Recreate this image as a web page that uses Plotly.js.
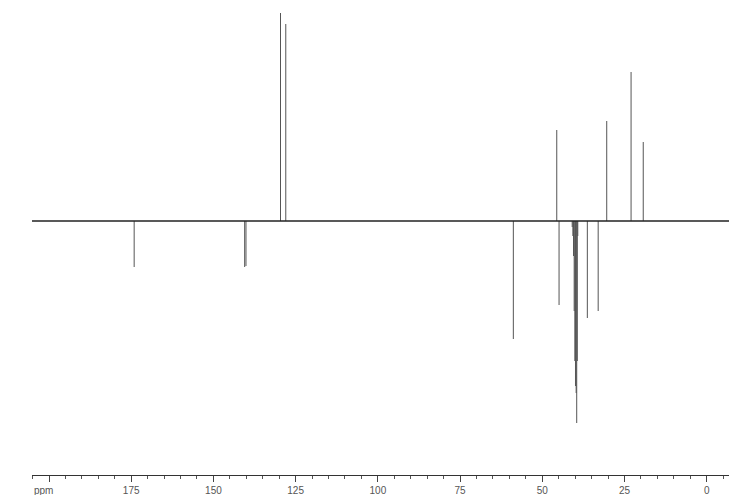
<!DOCTYPE html>
<html>
<head>
<meta charset="utf-8">
<script src="https://cdn.plot.ly/plotly-3.0.1.min.js"></script>
<style>html,body{margin:0;padding:0;background:#fff;}#chart{width:729px;height:495px;}</style>
</head>
<body>
<div id="chart"></div>
<script>
// Peak positions (ppm) and signed intensities (arbitrary units, positive = up)
var peakPpm = [174.1, 140.5, 140.1, 129.6, 128.0, 58.8, 45.6, 44.9,
               40.9, 40.7, 40.5, 40.3, 40.1, 39.9, 39.7, 39.53, 39.35, 39.2,
               36.3, 33.0, 30.4, 23.0, 19.3];
var peakInt = [-46, -46, -45, 208, 197, -118, 91, -84,
               -6, -15, -35, -90, -140, -165, -172, -202, -140, -15,
               -97, -90, 100, 149, 79];
var baselinePpm = [205.2, -6.8];
var baselineInt = [0, 0];
var majorTicks = [0, 25, 50, 75, 100, 125, 150, 175, 200];
var majorText = ['0', '25', '50', '75', '100', '125', '150', '175', ' '];

var sx = [], sy = [];
for (var i = 0; i < peakPpm.length; i++) {
  sx.push(peakPpm[i], peakPpm[i], null);
  sy.push(0, peakInt[i], null);
}
var minorVals = [];
for (var m = -5; m <= 205; m += 5) { if (m % 25 !== 0) minorVals.push(m); }

var traces = [
  {x: sx, y: sy, type: 'scatter', mode: 'lines', line: {color: '#555', width: 1}, hoverinfo: 'skip', connectgaps: false},
  {x: baselinePpm, y: baselineInt, type: 'scatter', mode: 'lines', line: {color: '#222', width: 1.7}, hoverinfo: 'skip'}
];

var layout = {
  width: 729, height: 495,
  margin: {l: 32, r: 0, t: 0, b: 20},
  paper_bgcolor: '#fff', plot_bgcolor: '#fff',
  showlegend: false,
  xaxis: {
    range: [205.17, -6.78],
    tickmode: 'array', tickvals: majorTicks, ticktext: majorText,
    ticks: 'outside', ticklen: 6, tickwidth: 1, tickcolor: '#444',
    showline: true, linecolor: '#333', linewidth: 1,
    showgrid: false, zeroline: false,
    tickfont: {family: 'Liberation Sans Narrow, Liberation Sans, sans-serif', size: 10, color: '#555'},
    minor: {tickmode: 'array', tickvals: minorVals, ticks: 'outside', ticklen: 3, tickcolor: '#555', showgrid: false}
  },
  yaxis: {range: [-254, 221], visible: false, showgrid: false, zeroline: false},
  annotations: [
    {x: 205.17, xref: 'x', xanchor: 'left', y: -0.033, yref: 'paper', yanchor: 'middle',
     text: 'ppm', showarrow: false,
     font: {family: 'Liberation Sans Narrow, Liberation Sans, sans-serif', size: 10, color: '#555'}}
  ]
};
Plotly.newPlot('chart', traces, layout, {staticPlot: true, displayModeBar: false});
</script>
</body>
</html>
